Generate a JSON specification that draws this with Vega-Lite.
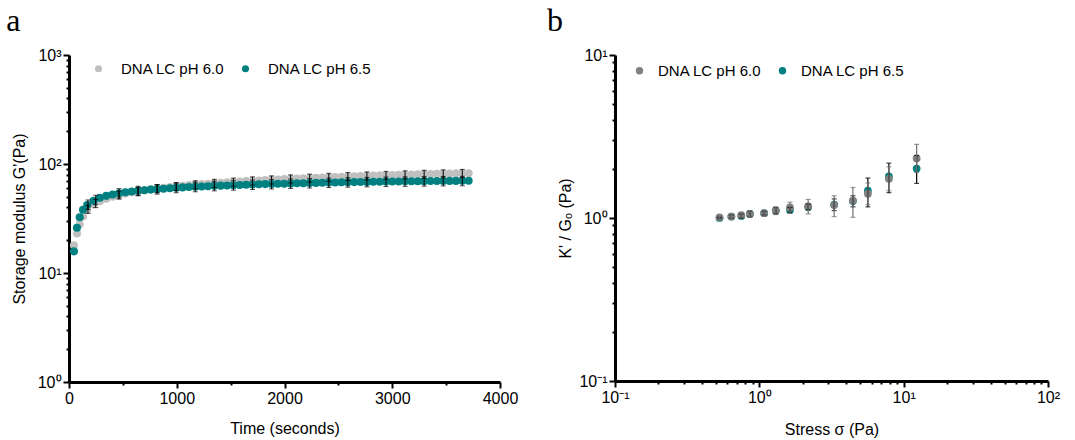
{
  "$schema": "https://vega.github.io/schema/vega-lite/v6.json",
  "padding": {"left": 6, "top": 5, "right": 5, "bottom": 5},
  "spacing": 28,
  "config": {
    "view": {"stroke": null},
    "axis": {
      "grid": false, "domainColor": "black", "domainWidth": 3, "tickColor": "black", "tickWidth": 2,
      "labelFont": "Liberation Sans", "labelFontSize": 16, "labelColor": "black", "labelPadding": 2,
      "titleFont": "Liberation Sans", "titleFontSize": 16, "titleFontWeight": "normal", "titleColor": "black",
      "labelFlush": false, "labelOverlap": false
    },
    "legend": {"labelFont": "Liberation Sans", "labelFontSize": 15, "labelColor": "black"},
    "title": {"font": "Liberation Serif", "fontSize": 32, "fontWeight": "normal", "anchor": "start", "frame": "bounds", "color": "black", "offset": 9}
  },
  "datasets": {
    "a": [
      {"series": "DNA LC pH 6.0", "time": 46, "G": 18},
      {"series": "DNA LC pH 6.0", "time": 74, "G": 23},
      {"series": "DNA LC pH 6.0", "time": 99, "G": 28},
      {"series": "DNA LC pH 6.0", "time": 130, "G": 33},
      {"series": "DNA LC pH 6.0", "time": 169, "G": 38},
      {"series": "DNA LC pH 6.0", "time": 228, "G": 42.5},
      {"series": "DNA LC pH 6.0", "time": 287, "G": 45.5},
      {"series": "DNA LC pH 6.0", "time": 346, "G": 48},
      {"series": "DNA LC pH 6.0", "time": 405, "G": 50},
      {"series": "DNA LC pH 6.0", "time": 464, "G": 52},
      {"series": "DNA LC pH 6.0", "time": 523, "G": 53.5},
      {"series": "DNA LC pH 6.0", "time": 582, "G": 55},
      {"series": "DNA LC pH 6.0", "time": 641, "G": 56.3},
      {"series": "DNA LC pH 6.0", "time": 700, "G": 57.5},
      {"series": "DNA LC pH 6.0", "time": 759, "G": 58.6},
      {"series": "DNA LC pH 6.0", "time": 818, "G": 59.6},
      {"series": "DNA LC pH 6.0", "time": 877, "G": 60.6},
      {"series": "DNA LC pH 6.0", "time": 936, "G": 61.5},
      {"series": "DNA LC pH 6.0", "time": 995, "G": 62.4},
      {"series": "DNA LC pH 6.0", "time": 1054, "G": 63.2},
      {"series": "DNA LC pH 6.0", "time": 1113, "G": 64},
      {"series": "DNA LC pH 6.0", "time": 1172, "G": 64.7},
      {"series": "DNA LC pH 6.0", "time": 1231, "G": 65.4},
      {"series": "DNA LC pH 6.0", "time": 1290, "G": 66},
      {"series": "DNA LC pH 6.0", "time": 1349, "G": 66.7},
      {"series": "DNA LC pH 6.0", "time": 1408, "G": 67.3},
      {"series": "DNA LC pH 6.0", "time": 1467, "G": 67.9},
      {"series": "DNA LC pH 6.0", "time": 1526, "G": 68.5},
      {"series": "DNA LC pH 6.0", "time": 1585, "G": 69.1},
      {"series": "DNA LC pH 6.0", "time": 1644, "G": 69.6},
      {"series": "DNA LC pH 6.0", "time": 1703, "G": 70.2},
      {"series": "DNA LC pH 6.0", "time": 1762, "G": 70.7},
      {"series": "DNA LC pH 6.0", "time": 1821, "G": 71.2},
      {"series": "DNA LC pH 6.0", "time": 1880, "G": 71.7},
      {"series": "DNA LC pH 6.0", "time": 1939, "G": 72.2},
      {"series": "DNA LC pH 6.0", "time": 1998, "G": 72.7},
      {"series": "DNA LC pH 6.0", "time": 2057, "G": 73.2},
      {"series": "DNA LC pH 6.0", "time": 2116, "G": 73.6},
      {"series": "DNA LC pH 6.0", "time": 2175, "G": 74.1},
      {"series": "DNA LC pH 6.0", "time": 2234, "G": 74.5},
      {"series": "DNA LC pH 6.0", "time": 2293, "G": 74.9},
      {"series": "DNA LC pH 6.0", "time": 2352, "G": 75.3},
      {"series": "DNA LC pH 6.0", "time": 2411, "G": 75.7},
      {"series": "DNA LC pH 6.0", "time": 2470, "G": 76.1},
      {"series": "DNA LC pH 6.0", "time": 2529, "G": 76.5},
      {"series": "DNA LC pH 6.0", "time": 2588, "G": 76.9},
      {"series": "DNA LC pH 6.0", "time": 2647, "G": 77.3},
      {"series": "DNA LC pH 6.0", "time": 2706, "G": 77.6},
      {"series": "DNA LC pH 6.0", "time": 2765, "G": 78},
      {"series": "DNA LC pH 6.0", "time": 2824, "G": 78.3},
      {"series": "DNA LC pH 6.0", "time": 2883, "G": 78.6},
      {"series": "DNA LC pH 6.0", "time": 2942, "G": 78.9},
      {"series": "DNA LC pH 6.0", "time": 3001, "G": 79.2},
      {"series": "DNA LC pH 6.0", "time": 3060, "G": 79.5},
      {"series": "DNA LC pH 6.0", "time": 3119, "G": 79.8},
      {"series": "DNA LC pH 6.0", "time": 3178, "G": 80.1},
      {"series": "DNA LC pH 6.0", "time": 3237, "G": 80.4},
      {"series": "DNA LC pH 6.0", "time": 3296, "G": 80.7},
      {"series": "DNA LC pH 6.0", "time": 3355, "G": 81},
      {"series": "DNA LC pH 6.0", "time": 3414, "G": 81.3},
      {"series": "DNA LC pH 6.0", "time": 3473, "G": 81.5},
      {"series": "DNA LC pH 6.0", "time": 3532, "G": 81.8},
      {"series": "DNA LC pH 6.0", "time": 3591, "G": 82},
      {"series": "DNA LC pH 6.0", "time": 3650, "G": 82.2},
      {"series": "DNA LC pH 6.0", "time": 3709, "G": 82.4},
      {"series": "DNA LC pH 6.5", "time": 46, "G": 15.8},
      {"series": "DNA LC pH 6.5", "time": 74, "G": 26},
      {"series": "DNA LC pH 6.5", "time": 99, "G": 32.5},
      {"series": "DNA LC pH 6.5", "time": 130, "G": 38},
      {"series": "DNA LC pH 6.5", "time": 169, "G": 42},
      {"series": "DNA LC pH 6.5", "time": 228, "G": 46},
      {"series": "DNA LC pH 6.5", "time": 287, "G": 49},
      {"series": "DNA LC pH 6.5", "time": 346, "G": 51},
      {"series": "DNA LC pH 6.5", "time": 405, "G": 52.5},
      {"series": "DNA LC pH 6.5", "time": 464, "G": 54},
      {"series": "DNA LC pH 6.5", "time": 523, "G": 55},
      {"series": "DNA LC pH 6.5", "time": 582, "G": 56},
      {"series": "DNA LC pH 6.5", "time": 641, "G": 56.8},
      {"series": "DNA LC pH 6.5", "time": 700, "G": 57.5},
      {"series": "DNA LC pH 6.5", "time": 759, "G": 58.2},
      {"series": "DNA LC pH 6.5", "time": 818, "G": 58.8},
      {"series": "DNA LC pH 6.5", "time": 877, "G": 59.4},
      {"series": "DNA LC pH 6.5", "time": 936, "G": 60},
      {"series": "DNA LC pH 6.5", "time": 995, "G": 60.5},
      {"series": "DNA LC pH 6.5", "time": 1054, "G": 61},
      {"series": "DNA LC pH 6.5", "time": 1113, "G": 61.4},
      {"series": "DNA LC pH 6.5", "time": 1172, "G": 61.8},
      {"series": "DNA LC pH 6.5", "time": 1231, "G": 62.2},
      {"series": "DNA LC pH 6.5", "time": 1290, "G": 62.6},
      {"series": "DNA LC pH 6.5", "time": 1349, "G": 63},
      {"series": "DNA LC pH 6.5", "time": 1408, "G": 63.3},
      {"series": "DNA LC pH 6.5", "time": 1467, "G": 63.6},
      {"series": "DNA LC pH 6.5", "time": 1526, "G": 63.9},
      {"series": "DNA LC pH 6.5", "time": 1585, "G": 64.2},
      {"series": "DNA LC pH 6.5", "time": 1644, "G": 64.5},
      {"series": "DNA LC pH 6.5", "time": 1703, "G": 64.8},
      {"series": "DNA LC pH 6.5", "time": 1762, "G": 65.1},
      {"series": "DNA LC pH 6.5", "time": 1821, "G": 65.4},
      {"series": "DNA LC pH 6.5", "time": 1880, "G": 65.6},
      {"series": "DNA LC pH 6.5", "time": 1939, "G": 65.8},
      {"series": "DNA LC pH 6.5", "time": 1998, "G": 66},
      {"series": "DNA LC pH 6.5", "time": 2057, "G": 66.3},
      {"series": "DNA LC pH 6.5", "time": 2116, "G": 66.5},
      {"series": "DNA LC pH 6.5", "time": 2175, "G": 66.7},
      {"series": "DNA LC pH 6.5", "time": 2234, "G": 66.9},
      {"series": "DNA LC pH 6.5", "time": 2293, "G": 67.1},
      {"series": "DNA LC pH 6.5", "time": 2352, "G": 67.3},
      {"series": "DNA LC pH 6.5", "time": 2411, "G": 67.5},
      {"series": "DNA LC pH 6.5", "time": 2470, "G": 67.7},
      {"series": "DNA LC pH 6.5", "time": 2529, "G": 67.9},
      {"series": "DNA LC pH 6.5", "time": 2588, "G": 68.1},
      {"series": "DNA LC pH 6.5", "time": 2647, "G": 68.2},
      {"series": "DNA LC pH 6.5", "time": 2706, "G": 68.4},
      {"series": "DNA LC pH 6.5", "time": 2765, "G": 68.5},
      {"series": "DNA LC pH 6.5", "time": 2824, "G": 68.7},
      {"series": "DNA LC pH 6.5", "time": 2883, "G": 68.8},
      {"series": "DNA LC pH 6.5", "time": 2942, "G": 69},
      {"series": "DNA LC pH 6.5", "time": 3001, "G": 69.1},
      {"series": "DNA LC pH 6.5", "time": 3060, "G": 69.2},
      {"series": "DNA LC pH 6.5", "time": 3119, "G": 69.3},
      {"series": "DNA LC pH 6.5", "time": 3178, "G": 69.4},
      {"series": "DNA LC pH 6.5", "time": 3237, "G": 69.5},
      {"series": "DNA LC pH 6.5", "time": 3296, "G": 69.6},
      {"series": "DNA LC pH 6.5", "time": 3355, "G": 69.7},
      {"series": "DNA LC pH 6.5", "time": 3414, "G": 69.8},
      {"series": "DNA LC pH 6.5", "time": 3473, "G": 69.9},
      {"series": "DNA LC pH 6.5", "time": 3532, "G": 70},
      {"series": "DNA LC pH 6.5", "time": 3591, "G": 70},
      {"series": "DNA LC pH 6.5", "time": 3650, "G": 70.1},
      {"series": "DNA LC pH 6.5", "time": 3709, "G": 70.2}
    ],
    "aerr": [
      {"series": "DNA LC pH 6.0", "time": 176, "lo": 35.2, "hi": 41.8},
      {"series": "DNA LC pH 6.0", "time": 248, "lo": 39.8, "hi": 47.2},
      {"series": "DNA LC pH 6.0", "time": 464, "lo": 47.6, "hi": 56.4},
      {"series": "DNA LC pH 6.0", "time": 641, "lo": 51.5, "hi": 61.1},
      {"series": "DNA LC pH 6.0", "time": 818, "lo": 54.5, "hi": 64.7},
      {"series": "DNA LC pH 6.0", "time": 995, "lo": 57.1, "hi": 67.7},
      {"series": "DNA LC pH 6.0", "time": 1172, "lo": 59.2, "hi": 70.2},
      {"series": "DNA LC pH 6.0", "time": 1349, "lo": 61.0, "hi": 72.4},
      {"series": "DNA LC pH 6.0", "time": 1526, "lo": 62.7, "hi": 74.3},
      {"series": "DNA LC pH 6.0", "time": 1703, "lo": 64.2, "hi": 76.2},
      {"series": "DNA LC pH 6.0", "time": 1880, "lo": 65.6, "hi": 77.8},
      {"series": "DNA LC pH 6.0", "time": 2057, "lo": 67.0, "hi": 79.4},
      {"series": "DNA LC pH 6.0", "time": 2234, "lo": 68.2, "hi": 80.8},
      {"series": "DNA LC pH 6.0", "time": 2411, "lo": 69.3, "hi": 82.1},
      {"series": "DNA LC pH 6.0", "time": 2588, "lo": 70.4, "hi": 83.4},
      {"series": "DNA LC pH 6.0", "time": 2765, "lo": 71.4, "hi": 84.6},
      {"series": "DNA LC pH 6.0", "time": 2942, "lo": 72.2, "hi": 85.6},
      {"series": "DNA LC pH 6.0", "time": 3119, "lo": 73.0, "hi": 86.6},
      {"series": "DNA LC pH 6.0", "time": 3296, "lo": 73.8, "hi": 87.6},
      {"series": "DNA LC pH 6.0", "time": 3473, "lo": 74.6, "hi": 88.4},
      {"series": "DNA LC pH 6.0", "time": 3650, "lo": 75.2, "hi": 89.2},
      {"series": "DNA LC pH 6.5", "time": 176, "lo": 38.3, "hi": 46.8},
      {"series": "DNA LC pH 6.5", "time": 248, "lo": 42.3, "hi": 51.7},
      {"series": "DNA LC pH 6.5", "time": 464, "lo": 48.6, "hi": 59.4},
      {"series": "DNA LC pH 6.5", "time": 641, "lo": 51.1, "hi": 62.5},
      {"series": "DNA LC pH 6.5", "time": 818, "lo": 52.9, "hi": 64.7},
      {"series": "DNA LC pH 6.5", "time": 995, "lo": 54.5, "hi": 66.6},
      {"series": "DNA LC pH 6.5", "time": 1172, "lo": 55.6, "hi": 68.0},
      {"series": "DNA LC pH 6.5", "time": 1349, "lo": 56.7, "hi": 69.3},
      {"series": "DNA LC pH 6.5", "time": 1526, "lo": 57.5, "hi": 70.3},
      {"series": "DNA LC pH 6.5", "time": 1703, "lo": 58.3, "hi": 71.3},
      {"series": "DNA LC pH 6.5", "time": 1880, "lo": 59.0, "hi": 72.2},
      {"series": "DNA LC pH 6.5", "time": 2057, "lo": 59.7, "hi": 72.9},
      {"series": "DNA LC pH 6.5", "time": 2234, "lo": 60.2, "hi": 73.6},
      {"series": "DNA LC pH 6.5", "time": 2411, "lo": 60.8, "hi": 74.3},
      {"series": "DNA LC pH 6.5", "time": 2588, "lo": 61.3, "hi": 74.9},
      {"series": "DNA LC pH 6.5", "time": 2765, "lo": 61.7, "hi": 75.4},
      {"series": "DNA LC pH 6.5", "time": 2942, "lo": 62.1, "hi": 75.9},
      {"series": "DNA LC pH 6.5", "time": 3119, "lo": 62.4, "hi": 76.2},
      {"series": "DNA LC pH 6.5", "time": 3296, "lo": 62.6, "hi": 76.6},
      {"series": "DNA LC pH 6.5", "time": 3473, "lo": 62.9, "hi": 76.9},
      {"series": "DNA LC pH 6.5", "time": 3650, "lo": 63.1, "hi": 77.1}
    ],
    "b": [
      {"series": "DNA LC pH 6.5", "stress": 0.53, "K": 1.00, "lo": 0.99, "hi": 1.01},
      {"series": "DNA LC pH 6.5", "stress": 0.64, "K": 1.02, "lo": 1.00, "hi": 1.04},
      {"series": "DNA LC pH 6.5", "stress": 0.75, "K": 1.03, "lo": 1.00, "hi": 1.06},
      {"series": "DNA LC pH 6.5", "stress": 0.86, "K": 1.06, "lo": 1.02, "hi": 1.10},
      {"series": "DNA LC pH 6.5", "stress": 1.08, "K": 1.07, "lo": 1.04, "hi": 1.10},
      {"series": "DNA LC pH 6.5", "stress": 1.30, "K": 1.11, "lo": 1.06, "hi": 1.16},
      {"series": "DNA LC pH 6.5", "stress": 1.63, "K": 1.12, "lo": 1.08, "hi": 1.16},
      {"series": "DNA LC pH 6.5", "stress": 2.18, "K": 1.17, "lo": 1.12, "hi": 1.22},
      {"series": "DNA LC pH 6.5", "stress": 3.3, "K": 1.21, "lo": 1.11, "hi": 1.31},
      {"series": "DNA LC pH 6.5", "stress": 4.45, "K": 1.27, "lo": 1.17, "hi": 1.37},
      {"series": "DNA LC pH 6.5", "stress": 5.65, "K": 1.47, "lo": 1.17, "hi": 1.76},
      {"series": "DNA LC pH 6.5", "stress": 7.9, "K": 1.80, "lo": 1.43, "hi": 2.17},
      {"series": "DNA LC pH 6.5", "stress": 12.3, "K": 2.01, "lo": 1.63, "hi": 2.42},
      {"series": "DNA LC pH 6.0", "stress": 0.53, "K": 1.01, "lo": 0.99, "hi": 1.03},
      {"series": "DNA LC pH 6.0", "stress": 0.64, "K": 1.02, "lo": 1.00, "hi": 1.04},
      {"series": "DNA LC pH 6.0", "stress": 0.75, "K": 1.04, "lo": 1.01, "hi": 1.07},
      {"series": "DNA LC pH 6.0", "stress": 0.86, "K": 1.06, "lo": 1.02, "hi": 1.10},
      {"series": "DNA LC pH 6.0", "stress": 1.08, "K": 1.07, "lo": 1.03, "hi": 1.11},
      {"series": "DNA LC pH 6.0", "stress": 1.30, "K": 1.11, "lo": 1.05, "hi": 1.17},
      {"series": "DNA LC pH 6.0", "stress": 1.63, "K": 1.16, "lo": 1.07, "hi": 1.25},
      {"series": "DNA LC pH 6.0", "stress": 2.18, "K": 1.18, "lo": 1.06, "hi": 1.30},
      {"series": "DNA LC pH 6.0", "stress": 3.3, "K": 1.20, "lo": 1.02, "hi": 1.37},
      {"series": "DNA LC pH 6.0", "stress": 4.45, "K": 1.28, "lo": 1.01, "hi": 1.54},
      {"series": "DNA LC pH 6.0", "stress": 5.65, "K": 1.41, "lo": 1.21, "hi": 1.64},
      {"series": "DNA LC pH 6.0", "stress": 7.9, "K": 1.74, "lo": 1.47, "hi": 2.06},
      {"series": "DNA LC pH 6.0", "stress": 12.3, "K": 2.32, "lo": 1.90, "hi": 2.83}
    ]
  },
  "resolve": {"scale": {"color": "independent"}, "legend": {"color": "independent"}},
  "hconcat": [
    {
      "title": {"text": "a", "dx": -5},
      "width": 431,
      "height": 327,
      "layer": [
        {
          "data": {"name": "a"},
          "mark": {"type": "circle", "size": 65, "opacity": 1},
          "encoding": {
            "x": {"field": "time", "type": "quantitative", "title": "Time (seconds)",
              "scale": {"domain": [0, 4000]},
              "axis": {"values": [0, 500, 1000, 1500, 2000, 2500, 3000, 3500, 4000], "format": "d",
                "labelExpr": "datum.value % 1000 == 0 ? datum.label : ''",
                "tickSize": {"condition": {"test": "datum.value % 1000 == 0", "value": 6}, "value": 3},
                "titlePadding": 14}},
            "y": {"field": "G", "type": "quantitative", "title": "Storage modulus G'(Pa)",
              "scale": {"type": "log", "domain": [1, 1000]},
              "axis": {"values": [1, 2, 3, 4, 5, 6, 7, 8, 9, 10, 20, 30, 40, 50, 60, 70, 80, 90, 100, 200, 300, 400, 500, 600, 700, 800, 900, 1000],
                "labelExpr": "datum.value == 1 ? '10⁰' : datum.value == 10 ? '10¹' : datum.value == 100 ? '10²' : datum.value == 1000 ? '10³' : ''",
                "tickSize": {"condition": {"test": "datum.value == 1 || datum.value == 10 || datum.value == 100 || datum.value == 1000", "value": 6}, "value": 3},
                "titlePadding": 10}},
            "color": {"field": "series", "type": "nominal",
              "scale": {"domain": ["DNA LC pH 6.0", "DNA LC pH 6.5"], "range": ["#c0c0c0", "#008080"]},
              "legend": {"orient": "none", "legendX": 22, "legendY": 6, "direction": "horizontal", "title": null,
                "symbolType": "circle", "symbolSize": 50, "labelOffset": 15, "columnPadding": 13, "padding": 0}}
          }
        },
        {
          "data": {"name": "aerr"},
          "mark": {"type": "errorbar", "color": "black", "thickness": 1, "ticks": {"size": 5, "color": "black", "thickness": 1}},
          "encoding": {
            "x": {"field": "time", "type": "quantitative", "title": "Time (seconds)"},
            "y": {"field": "lo", "type": "quantitative", "title": "Storage modulus G'(Pa)"},
            "y2": {"field": "hi"}
          }
        }
      ]
    },
    {
      "title": {"text": "b", "dx": -11},
      "width": 433,
      "height": 326,
      "layer": [
        {
          "data": {"name": "b"},
          "mark": {"type": "circle", "size": 60, "opacity": 1},
          "encoding": {
            "x": {"field": "stress", "type": "quantitative", "title": "Stress σ (Pa)",
              "scale": {"type": "log", "domain": [0.1, 100]},
              "axis": {"values": [0.1, 0.2, 0.3, 0.4, 0.5, 0.6, 0.7, 0.8, 0.9, 1, 2, 3, 4, 5, 6, 7, 8, 9, 10, 20, 30, 40, 50, 60, 70, 80, 90, 100],
                "labelExpr": "datum.value == 0.1 ? '10⁻¹' : datum.value == 1 ? '10⁰' : datum.value == 10 ? '10¹' : datum.value == 100 ? '10²' : ''",
                "tickSize": {"condition": {"test": "datum.value == 0.1 || datum.value == 1 || datum.value == 10 || datum.value == 100", "value": 6}, "value": 3},
                "titlePadding": 16}},
            "y": {"field": "K", "type": "quantitative", "title": "K' / Gₒ (Pa)",
              "scale": {"type": "log", "domain": [0.1, 10]},
              "axis": {"values": [0.1, 0.2, 0.3, 0.4, 0.5, 0.6, 0.7, 0.8, 0.9, 1, 2, 3, 4, 5, 6, 7, 8, 9, 10],
                "labelExpr": "datum.value == 0.1 ? '10⁻¹' : datum.value == 1 ? '10⁰' : datum.value == 10 ? '10¹' : ''",
                "tickSize": {"condition": {"test": "datum.value == 0.1 || datum.value == 1 || datum.value == 10", "value": 6}, "value": 3},
                "titlePadding": 5}},
            "color": {"field": "series", "type": "nominal",
              "scale": {"domain": ["DNA LC pH 6.0", "DNA LC pH 6.5"], "range": ["#808080", "#008080"]},
              "legend": {"orient": "none", "legendX": 17, "legendY": 8, "direction": "horizontal", "title": null,
                "symbolType": "circle", "symbolSize": 55, "labelOffset": 11, "columnPadding": 13, "padding": 0}}
          }
        },
        {
          "data": {"name": "b"},
          "transform": [{"filter": "datum.series == 'DNA LC pH 6.5'"}],
          "mark": {"type": "errorbar", "color": "black", "thickness": 1.2, "ticks": {"size": 5, "color": "black", "thickness": 1.2}},
          "encoding": {
            "x": {"field": "stress", "type": "quantitative", "title": "Stress σ (Pa)"},
            "y": {"field": "lo", "type": "quantitative", "title": "K' / Gₒ (Pa)"},
            "y2": {"field": "hi"}
          }
        },
        {
          "data": {"name": "b"},
          "transform": [{"filter": "datum.series == 'DNA LC pH 6.0'"}],
          "mark": {"type": "errorbar", "color": "#707070", "thickness": 1.2, "ticks": {"size": 5, "color": "#707070", "thickness": 1.2}},
          "encoding": {
            "x": {"field": "stress", "type": "quantitative", "title": "Stress σ (Pa)"},
            "y": {"field": "lo", "type": "quantitative", "title": "K' / Gₒ (Pa)"},
            "y2": {"field": "hi"}
          }
        }
      ]
    }
  ]
}
